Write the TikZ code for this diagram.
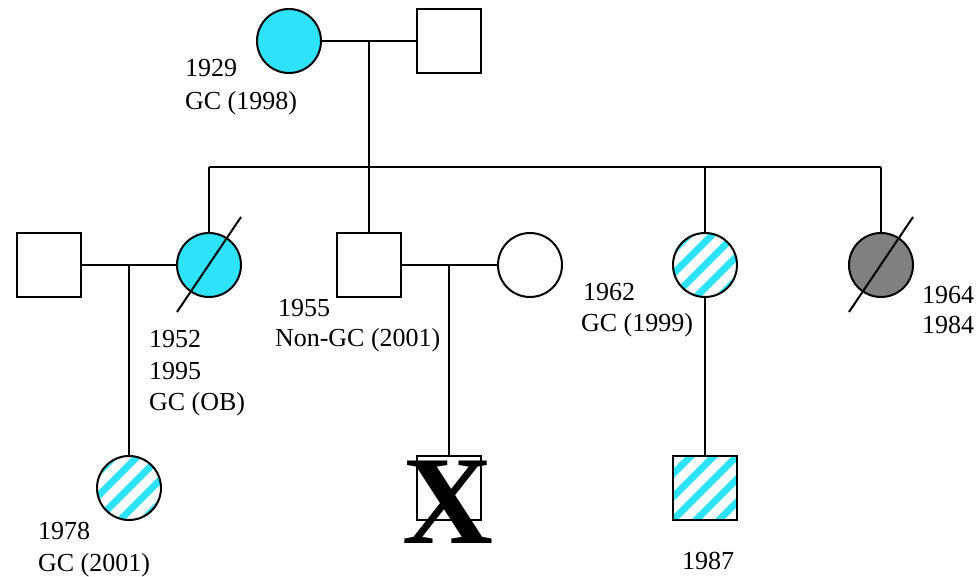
\documentclass[tikz,border=0pt]{standalone}
\usepackage{fontspec}
\setmainfont{Liberation Serif}
\definecolor{gccyan}{RGB}{46,226,250}
\definecolor{dgray}{RGB}{128,128,128}
\begin{document}
\begin{tikzpicture}[x=1pt,y=-1pt,line width=2pt,
  fem/.style={circle,draw,minimum size=64pt,inner sep=0pt},
  mal/.style={rectangle,draw,minimum size=64pt,inner sep=0pt},
  hatched/.style={path picture={\foreach \k in {-6,...,6}{\draw[gccyan,line width=7pt]
      ([xshift={\k*23pt-60pt},yshift=-60pt]path picture bounding box.center) --
      ([xshift={\k*23pt+60pt},yshift=60pt]path picture bounding box.center);}}},
  lbl/.style={anchor=base west,inner sep=0pt,font=\fontsize{26}{30}\selectfont}]
\useasboundingbox (0,0) rectangle (976,577);
% generation I
\node[fem,fill=gccyan] (gm) at (289,41) {};
\node[mal] (gf) at (449,41) {};
% generation II
\node[mal] (h1) at (49,265) {};
\node[fem,fill=gccyan] (d1) at (209,265) {};
\node[mal] (s1) at (369,265) {};
\node[fem] (w1) at (530,265) {};
\node[fem,hatched] (d2) at (705,265) {};
\node[fem,fill=dgray] (d3) at (881,265) {};
% generation III
\node[fem,hatched] (g1) at (129,488) {};
\node[mal] (g2) at (449,488) {};
\node[mal,hatched] (g3) at (705,488) {};
% junction coordinates
\coordinate (m0) at (369,41);
\coordinate (sb) at (369,167);
\coordinate (sl) at (209,167);
\coordinate (sr) at (881,167);
\coordinate (sd2) at (705,167);
\coordinate (m1) at (129,265);
\coordinate (m2) at (449,265);
% connectors
\draw (gm.east) -- (gf.west);
\draw (m0) -- (sb);
\draw (sl) -- (sr);
\draw (sl) -- (d1.north);
\draw (sb) -- (s1.north);
\draw (sd2) -- (d2.north);
\draw (sr) -- (d3.north);
\draw (h1.east) -- (d1.west);
\draw (m1) -- (g1.north);
\draw (s1.east) -- (w1.west);
\draw (m2) -- (g2.north);
\draw (d2.south) -- (g3.north);
% deceased slashes
\draw ([shift={(-32,47)}]d1.center) -- ([shift={(32,-48)}]d1.center);
\draw ([shift={(-32,47)}]d3.center) -- ([shift={(32,-48)}]d3.center);
% big X
\node[anchor=base,inner sep=0pt,font=\fontsize{126}{126}\selectfont\bfseries] (xm) at (448,543) {X};
% labels
\node[lbl] (t1) at (184,77) {1929};
\node[lbl] (t2) at (184,110) {GC (1998)};
\node[lbl] (t3) at (148,347) {1952};
\node[lbl] (t4) at (148,379) {1995};
\node[lbl] (t5) at (148,410) {GC (OB)};
\node[lbl] (t6) at (277,316) {1955};
\node[lbl] (t7) at (274,346) {Non-GC (2001)};
\node[lbl] (t8) at (582,300) {1962};
\node[lbl] (t9) at (580,331) {GC (1999)};
\node[lbl] (t10) at (921,303) {1964};
\node[lbl] (t11) at (921,333) {1984};
\node[lbl] (t12) at (37,539) {1978};
\node[lbl] (t13) at (37,571) {GC (2001)};
\node[lbl] (t14) at (681,569) {1987};
\end{tikzpicture}
\end{document}
